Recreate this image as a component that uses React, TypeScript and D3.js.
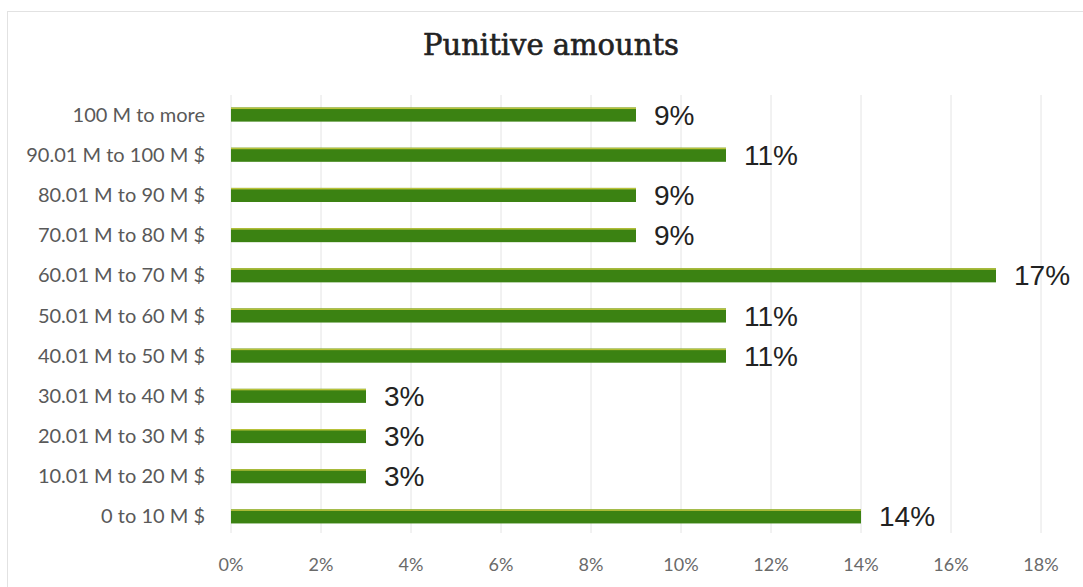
import React from "react";
import * as d3 from "d3";

const categories = [
  "100 M to more",
  "90.01 M to 100 M $",
  "80.01 M to 90 M $",
  "70.01 M to 80 M $",
  "60.01 M to 70 M $",
  "50.01 M to 60 M $",
  "40.01 M to 50 M $",
  "30.01 M to 40 M $",
  "20.01 M to 30 M $",
  "10.01 M to 20 M $",
  "0 to 10 M $",
];
const values = [9, 11, 9, 9, 17, 11, 11, 3, 3, 3, 14];
const ticks = [0, 2, 4, 6, 8, 10, 12, 14, 16, 18];

export default function App() {
  const W = 1083, H = 587;
  const x = d3.scaleLinear().domain([0, 18]).range([231, 1041]);
  const y = d3.scaleBand<string>().domain(categories).range([94.5, 536.5]).paddingInner(0.65).paddingOuter(0.325);
  const bh = y.bandwidth();
  return (
    <svg width={W} height={H} style={{ position: "absolute", left: 0, top: 0, background: "#fff" }}>
      <rect x={7.5} y={11.5} width={W - 6} height={H - 5} fill="#fff" stroke="#e2e2e2" />
      <text x={551} y={55} textAnchor="middle" fontFamily="'DejaVu Serif', serif" fontSize={29} fill="#222" stroke="#222" strokeWidth={0.6}>
        Punitive amounts
      </text>
      {ticks.map((t) => (
        <line key={"g" + t} x1={x(t)} x2={x(t)} y1={95} y2={533} stroke="#e4e4e4" strokeWidth={1} />
      ))}
      {categories.map((c, i) => {
        const yy = y(c)!;
        return (
          <g key={c}>
            <rect x={x(0)} y={yy} width={x(values[i]) - x(0)} height={bh} fill="#3b8212" />
            <rect x={x(0)} y={yy} width={x(values[i]) - x(0)} height={1.5} fill="#b9c23a" />
            <text x={205} y={yy + bh / 2} dy="0.35em" textAnchor="end" fontFamily="Lato, sans-serif" fontSize={20} fill="#595959">
              {c}
            </text>
            <text x={x(values[i]) + 18} y={yy + bh / 2} dy="0.36em" fontFamily="'Liberation Sans', Arial, sans-serif" fontSize={28} fill="#222">
              {values[i]}%
            </text>
          </g>
        );
      })}
      {ticks.map((t) => (
        <text key={"t" + t} x={x(t)} y={571} textAnchor="middle" fontFamily="Lato, sans-serif" fontSize={18} fill="#6a6a6a">
          {t}%
        </text>
      ))}
    </svg>
  );
}
